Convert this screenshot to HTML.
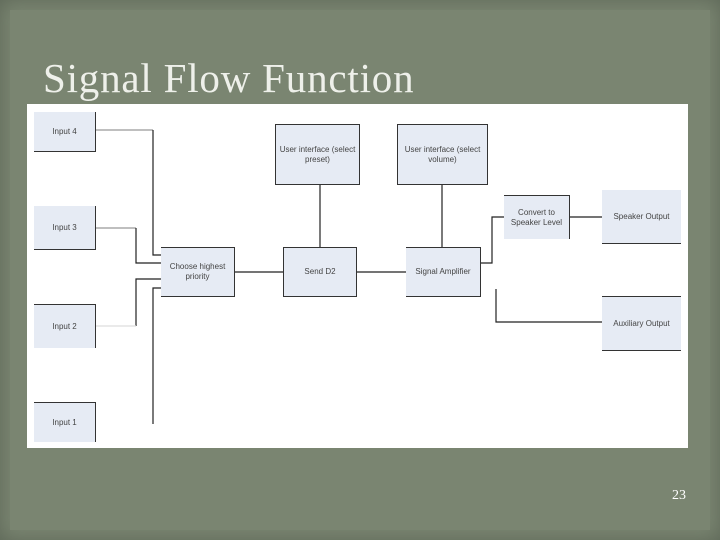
<!DOCTYPE html>
<html><head><style>
body{margin:0;width:720px;height:540px;overflow:hidden;background:#5e6858;font-family:"Liberation Sans",sans-serif}
.bg{position:absolute;left:10px;top:10px;width:700px;height:520px;background:#7a8571;box-shadow:0 0 20px 10px #7a8571}
.title{position:absolute;left:43px;top:54px;font-family:"Liberation Serif",serif;font-size:41px;letter-spacing:0.8px;color:#eef0ea}
.panel{position:absolute;left:27px;top:104px;width:661px;height:344px;background:#fff}
.b{position:absolute;background:#e6ebf4;font-size:8px;color:#444;display:flex;align-items:center;justify-content:center;text-align:center;line-height:10px;box-sizing:border-box}
.num{position:absolute;left:672px;top:488px;color:#fff;font-family:"Liberation Serif",serif;font-size:14px}
</style></head><body>
<div class="bg"></div>
<div class="title">Signal Flow Function</div>
<div class="panel"></div>
<svg style="position:absolute;left:0;top:0" width="720" height="540">
<g fill="none" stroke="#222" stroke-width="1.2">
<polyline points="96,130 153,130" stroke="#999"/>
<polyline points="153,130 153,255 161,255"/>
<polyline points="96,228 136,228" stroke="#999"/>
<polyline points="136,228 136,263 161,263"/>
<polyline points="161,279 136,279 136,326"/>
<polyline points="96,326 136,326" stroke="#ddd"/>
<polyline points="161,288 153,288 153,424"/>
<line x1="234" y1="272" x2="283" y2="272"/>
<line x1="357" y1="272" x2="406" y2="272"/>
<line x1="320" y1="184" x2="320" y2="247"/>
<line x1="442" y1="184" x2="442" y2="247"/>
<polyline points="480,263 492,263 492,217 504,217"/>
<line x1="570" y1="217" x2="602" y2="217"/>
<polyline points="496,289 496,322 602,322"/>
</g></svg>
<div class="b" style="left:34px;top:112px;width:62px;height:40px;border-right:1px solid #333;border-bottom:1px solid #333">Input 4</div>
<div class="b" style="left:34px;top:206px;width:62px;height:44px;border-right:1px solid #333;border-bottom:1px solid #333">Input 3</div>
<div class="b" style="left:34px;top:304px;width:62px;height:44px;border-top:1px solid #333;border-right:1px solid #333">Input 2</div>
<div class="b" style="left:34px;top:402px;width:62px;height:40px;border-top:1px solid #333;border-right:1px solid #333">Input 1</div>
<div class="b" style="left:161px;top:247px;width:74px;height:50px;border:1px solid #333;border-left:none">Choose highest<br>priority</div>
<div class="b" style="left:283px;top:247px;width:74px;height:50px;border:1px solid #333">Send D2</div>
<div class="b" style="left:275px;top:124px;width:85px;height:61px;border:1px solid #333">User interface (select<br>preset)</div>
<div class="b" style="left:397px;top:124px;width:91px;height:61px;border:1px solid #333">User interface (select<br>volume)</div>
<div class="b" style="left:406px;top:247px;width:75px;height:50px;border:1px solid #333;border-left:none">Signal Amplifier</div>
<div class="b" style="left:504px;top:195px;width:66px;height:44px;border-top:1px solid #333;border-right:1px solid #333">Convert to<br>Speaker Level</div>
<div class="b" style="left:602px;top:190px;width:79px;height:54px;border-bottom:1px solid #333">Speaker Output</div>
<div class="b" style="left:602px;top:296px;width:79px;height:55px;border-top:1px solid #333;border-bottom:1px solid #333">Auxiliary Output</div>
<div class="num">23</div>
</body></html>
